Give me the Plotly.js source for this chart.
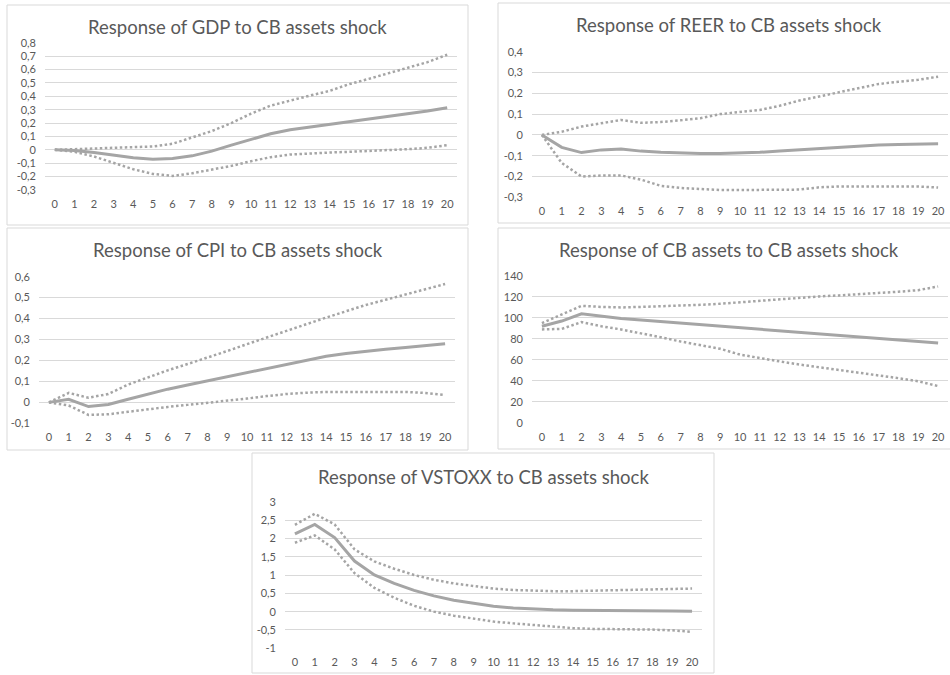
<!DOCTYPE html>
<html>
<head>
<meta charset="utf-8">
<script src="https://cdn.plot.ly/plotly-3.0.1.min.js"></script>
<style>
  html, body { margin: 0; padding: 0; background: #ffffff; }
  #chart { width: 950px; height: 675px; }
</style>
</head>
<body>
<div id="chart"></div>
<script>
// ---------- DATA ----------
const horizons = [0,1,2,3,4,5,6,7,8,9,10,11,12,13,14,15,16,17,18,19,20];
const xTickLabels = ["0","1","2","3","4","5","6","7","8","9","10","11","12","13","14","15","16","17","18","19","20"];

const panelTitles = [
  "Response of GDP to CB assets shock",
  "Response of REER to CB assets shock",
  "Response of CPI to CB assets shock",
  "Response of CB assets to CB assets shock",
  "Response of VSTOXX to CB assets shock"
];

// GDP
const gdpMean  = [0,-0.005,-0.02,-0.04,-0.06,-0.07,-0.065,-0.045,-0.01,0.035,0.08,0.12,0.15,0.17,0.19,0.205,0.225,0.245,0.265,0.29,0.315];
const gdpUpper = [0,0.005,0.01,0.012,0.015,0.025,0.045,0.09,0.14,0.2,0.27,0.33,0.37,0.405,0.44,0.49,0.53,0.57,0.61,0.655,0.71];
const gdpLower = [0,-0.015,-0.05,-0.1,-0.145,-0.18,-0.195,-0.175,-0.15,-0.12,-0.085,-0.055,-0.035,-0.025,-0.02,-0.015,-0.01,-0.005,0.005,0.015,0.035];
const gdpTicks = [-0.3,-0.2,-0.1,0,0.1,0.2,0.3,0.4,0.5,0.6,0.7,0.8];
const gdpTickLabels = ["-0,3","-0,2","-0,1","0","0,1","0,2","0,3","0,4","0,5","0,6","0,7","0,8"];

// REER
const reerMean  = [0,-0.06,-0.085,-0.072,-0.068,-0.078,-0.084,-0.088,-0.09,-0.09,-0.088,-0.084,-0.078,-0.072,-0.065,-0.058,-0.053,-0.049,-0.046,-0.045,-0.043];
const reerUpper = [0,0.015,0.04,0.055,0.072,0.058,0.062,0.07,0.08,0.1,0.11,0.12,0.14,0.165,0.185,0.205,0.225,0.245,0.255,0.265,0.28];
const reerLower = [0,-0.135,-0.2,-0.195,-0.195,-0.215,-0.245,-0.255,-0.26,-0.265,-0.265,-0.265,-0.265,-0.263,-0.252,-0.248,-0.248,-0.248,-0.248,-0.248,-0.253];
const reerTicks = [-0.3,-0.2,-0.1,0,0.1,0.2,0.3,0.4];
const reerTickLabels = ["-0,3","-0,2","-0,1","0","0,1","0,2","0,3","0,4"];

// CPI
const cpiMean  = [0,0.015,-0.02,-0.01,0.015,0.04,0.063,0.083,0.103,0.123,0.143,0.163,0.183,0.203,0.22,0.233,0.245,0.254,0.262,0.27,0.28];
const cpiUpper = [0,0.045,0.022,0.04,0.085,0.12,0.153,0.183,0.213,0.245,0.278,0.31,0.342,0.375,0.405,0.435,0.465,0.49,0.515,0.54,0.565];
const cpiLower = [0,-0.015,-0.06,-0.057,-0.045,-0.032,-0.022,-0.012,-0.003,0.008,0.018,0.03,0.04,0.046,0.05,0.05,0.05,0.05,0.05,0.045,0.035];
const cpiTicks = [-0.1,0,0.1,0.2,0.3,0.4,0.5,0.6];
const cpiTickLabels = ["-0,1","0","0,1","0,2","0,3","0,4","0,5","0,6"];

// CB assets
const cbMean  = [92,97,104,101.5,99.5,98,96.5,95,93.5,92,90.5,89,87.5,86,84.5,83,81.5,80,78.5,77,76];
const cbUpper = [95,103,111.5,110.5,110,110.5,111,111.5,112.5,113.5,115,116.5,118,119.5,120.5,121.5,122.5,123.5,125,126.5,130];
const cbLower = [89,89.5,96,92,89,85.5,81.5,77.5,74,70.5,65,61.5,58.5,55.5,53,50.5,48,45,42.5,39.5,35];
const cbTicks = [0,20,40,60,80,100,120,140];
const cbTickLabels = ["0","20","40","60","80","100","120","140"];

// VSTOXX
const vsMean  = [2.12,2.38,2.02,1.38,1.0,0.77,0.58,0.43,0.31,0.22,0.15,0.1,0.07,0.05,0.04,0.04,0.035,0.03,0.025,0.02,0.01];
const vsUpper = [2.37,2.67,2.38,1.7,1.37,1.17,1.0,0.87,0.77,0.7,0.63,0.59,0.57,0.56,0.56,0.57,0.58,0.59,0.6,0.61,0.63];
const vsLower = [1.88,2.08,1.7,1.05,0.65,0.38,0.16,0.0,-0.11,-0.2,-0.27,-0.32,-0.37,-0.42,-0.45,-0.47,-0.47,-0.48,-0.49,-0.51,-0.55];
const vsTicks = [-1,-0.5,0,0.5,1,1.5,2,2.5,3];
const vsTickLabels = ["-1","-0,5","0","0,5","1","1,5","2","2,5","3"];

// ---------- LAYOUT HELPERS ----------
const W = 950, H = 675;
const px = v => v / W;
const py = v => 1 - v / H;

const FONT = "Lato, 'Open Sans', 'Liberation Sans', sans-serif";
const TXT = "#595959";
const GRID = "#d9d9d9";
const LINE = "#a5a5a5";

// plot areas (pixels): x0, x1, yTop, yBottom ; box (pixels): x0, x1, y0, y1
const panels = [
  {mean: gdpMean,  up: gdpUpper,  lo: gdpLower,  ticks: gdpTicks,  labels: gdpTickLabels,  range: [-0.3, 0.8], plot: [45, 457, 42.7, 190],   box: [7, 468, 5, 225],    titleY: 27},
  {mean: reerMean, up: reerUpper, lo: reerLower, ticks: reerTicks, labels: reerTickLabels, range: [-0.3, 0.4], plot: [532, 948, 51.7, 197.3], box: [498, 960, 3, 223],  titleY: 25},
  {mean: cpiMean,  up: cpiUpper,  lo: cpiLower,  ticks: cpiTicks,  labels: cpiTickLabels,  range: [-0.1, 0.6], plot: [39, 455, 276.7, 423.3], box: [7, 468, 228, 450],  titleY: 250},
  {mean: cbMean,   up: cbUpper,   lo: cbLower,   ticks: cbTicks,   labels: cbTickLabels,   range: [0, 140],    plot: [532, 948, 276, 422.7],  box: [498, 960, 228, 449], titleY: 250},
  {mean: vsMean,   up: vsUpper,   lo: vsLower,   ticks: vsTicks,   labels: vsTickLabels,   range: [-1, 3],     plot: [285, 702, 501.7, 648.3], box: [252, 714, 453, 673], titleY: 477}
];

const data = [];
const layout = {
  width: W, height: H,
  margin: {l: 0, r: 0, t: 0, b: 0, pad: 0},
  paper_bgcolor: "#ffffff",
  plot_bgcolor: "rgba(0,0,0,0)",
  showlegend: false,
  font: {family: FONT, color: TXT, size: 11},
  shapes: [],
  annotations: []
};

panels.forEach((p, i) => {
  const n = i + 1;
  const xa = "x" + (n === 1 ? "" : n);
  const ya = "y" + (n === 1 ? "" : n);
  const xKey = "xaxis" + (n === 1 ? "" : n);
  const yKey = "yaxis" + (n === 1 ? "" : n);

  const dotted = {color: LINE, width: 2.5, dash: "2.5px,2.5px"};
  data.push({x: horizons, y: p.up,   type: "scatter", mode: "lines", line: dotted, xaxis: xa, yaxis: ya, hoverinfo: "skip"});
  data.push({x: horizons, y: p.lo,   type: "scatter", mode: "lines", line: dotted, xaxis: xa, yaxis: ya, hoverinfo: "skip"});
  data.push({x: horizons, y: p.mean, type: "scatter", mode: "lines", line: {color: LINE, width: 3}, xaxis: xa, yaxis: ya, hoverinfo: "skip"});

  layout[xKey] = {
    domain: [px(p.plot[0]), px(p.plot[1])],
    anchor: ya,
    range: [-0.5, 20.5],
    tickmode: "array",
    tickvals: horizons,
    ticktext: xTickLabels,
    showgrid: false, zeroline: false, showline: false,
    ticks: "",
    ticklabelstandoff: 6,
    tickfont: {family: FONT, size: 11, color: TXT},
    fixedrange: true
  };
  layout[yKey] = {
    domain: [py(p.plot[3]), py(p.plot[2])],
    anchor: xa,
    range: p.range,
    tickmode: "array",
    tickvals: p.ticks,
    ticktext: p.labels,
    showgrid: true, gridcolor: GRID, gridwidth: 1,
    zeroline: false, showline: false,
    ticks: "",
    ticklabelstandoff: 8,
    tickfont: {family: FONT, size: 11, color: TXT},
    fixedrange: true
  };

  layout.shapes.push({
    type: "rect", xref: "paper", yref: "paper",
    x0: px(p.box[0]), x1: px(p.box[1]), y0: py(p.box[3]), y1: py(p.box[2]),
    line: {color: GRID, width: 1}, fillcolor: "rgba(0,0,0,0)", layer: "below"
  });
  layout.annotations.push({
    text: panelTitles[i], xref: "paper", yref: "paper",
    x: px((p.box[0] + p.box[1]) / 2), y: py(p.titleY),
    xanchor: "center", yanchor: "middle", showarrow: false,
    font: {family: FONT, size: 18.5, color: TXT, weight: 400}
  });
});

Plotly.newPlot("chart", data, layout, {displayModeBar: false, staticPlot: true});
</script>
</body>
</html>
